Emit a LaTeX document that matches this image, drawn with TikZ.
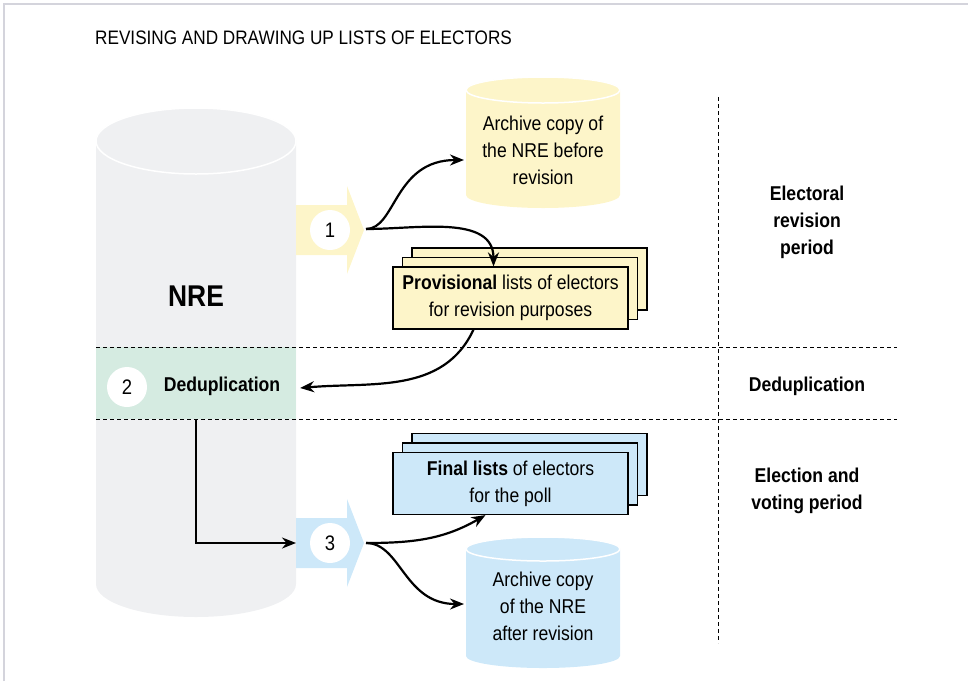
\documentclass[tikz,border=0pt]{standalone}
\usepackage{fontspec}
\setmainfont{Liberation Sans}[FakeStretch=0.88]
\usetikzlibrary{arrows.meta,positioning}
\definecolor{nregray}{HTML}{EFF0F2}
\definecolor{paleyellow}{HTML}{FDF5C9}
\definecolor{paleblue}{HTML}{CDE8F9}
\definecolor{bandgreen}{HTML}{D5EBE1}
\definecolor{framegray}{HTML}{D4D4DC}
% drum: fill, centre x, top y, bottom y, x radius, y radius
\newcommand{\drum}[6]{%
\fill[#1] (#2-#5,#3) -- (#2-#5,#4) arc[start angle=180,end angle=360,x radius=#5,y radius=#6] -- (#2+#5,#3) -- cycle;
\fill[#1] (#2,#3) ellipse[x radius=#5,y radius=#6];
\draw[white,line width=1.5pt] (#2,#3) ellipse[x radius=#5,y radius=#6];}
% block arrow: fill, centre y
\newcommand{\blockarrow}[2]{%
\fill[#1] (296,#2+25) -- (347,#2+25) -- (347,#2+44) -- (364,#2) -- (347,#2-44) -- (347,#2-25) -- (296,#2-25) -- cycle;}

\begin{document}
\begin{tikzpicture}[x=1pt,y=1pt,>={Stealth[length=14pt,width=11pt]},
  every node/.style={font=\fontsize{20}{27}\selectfont},
  num/.style={circle,fill=white,minimum size=40pt,inner sep=0pt,font=\fontsize{21}{27}\selectfont},
  sheet/.style={draw,line width=1.2pt,minimum width=235pt,minimum height=62pt,align=center,inner sep=0pt},
  period/.style={align=center,font=\fontsize{20}{27}\selectfont\bfseries},
  link/.style={->,line width=2.2pt},
  divider/.style={dash pattern=on 4pt off 3pt,line width=0.9pt}]
\useasboundingbox (0,0) rectangle (968,-681);
\draw[framegray,line width=2pt] (4,-681) -- (4,-4) -- (968,-4);
\node[anchor=base west,inner sep=0pt,font=\fontsize{19.5}{23}\selectfont] (title) at (95,-44) {REVISING AND DRAWING UP LISTS OF ELECTORS};

% register and block arrows
\drum{nregray}{196}{-141}{-584}{100}{33}
\node[font=\fontsize{30}{34}\selectfont\bfseries] (nre) at (196,-296) {NRE};
\node[fill=bandgreen,minimum width=200pt,minimum height=72pt,inner sep=0pt] (band) at (196,-383) {};
\node[num] (c2) at (127,-387) {2};
\node[font=\fontsize{20}{27}\selectfont\bfseries] (dedup) at (222,-386) {Deduplication};
\blockarrow{paleyellow}{-230}
\blockarrow{paleblue}{-543}
\node[num] (c1) at (330,-230) {1};
\node[num] (c3) at (330,-543) {3};
\coordinate (t1) at (366,-229);
\coordinate (t3) at (366,-543);
\coordinate (a3) at (296,-543);

% archive copies
\drum{paleyellow}{543}{-90}{-195}{77}{13}
\drum{paleblue}{543}{-549}{-656}{77}{12}
\node[align=center] (arch1) at (543,-150) {Archive copy of\\the NRE before\\revision};
\node[align=center] (arch2) at (543,-606) {Archive copy\\of the NRE\\after revision};
\coordinate (a1) at (464,-160);
\coordinate (a4) at (464,-604);

% lists of electors
\node[sheet,fill=paleyellow] (prov3) at (529.5,-279) {};
\node[sheet,fill=paleyellow] (prov2) at (520,-288.5) {};
\node[sheet,fill=paleyellow] (prov) at (510.5,-298) {\textbf{Provisional} lists of electors\\for revision purposes};
\node[sheet,fill=paleblue] (fin3) at (529.5,-464.5) {};
\node[sheet,fill=paleblue] (fin2) at (520,-474) {};
\node[sheet,fill=paleblue] (fin) at (510.5,-483.5) {\textbf{Final lists} of electors\\for the poll};

% periods
\draw[divider] (96,-347) -- (897,-347);
\draw[divider] (96,-419) -- (897,-419);
\draw[divider] (718,-97) -- (718,-643);
\node[period] (rev) at (807,-222) {Electoral\\revision\\period};
\node[period] (ded) at (807,-386) {Deduplication};
\node[period] (vote) at (807,-491) {Election and\\voting period};

\draw[link] (t1) .. controls +(30,0) and +(-70,0) .. (a1);
\draw[link] (t1) to[out=0,in=90] ([xshift=-17pt]prov.north);
\draw[link] ([xshift=-37pt]prov.south) to[out=-115,in=5] ([xshift=4pt,yshift=-5pt]band.east);
\draw[link] (band.south) |- (a3);
\draw[link] (t3) to[out=0,in=210] ([xshift=-25pt]fin.south);
\draw[link] (t3) .. controls +(35,0) and +(-60,0) .. (a4);
\end{tikzpicture}
\end{document}
